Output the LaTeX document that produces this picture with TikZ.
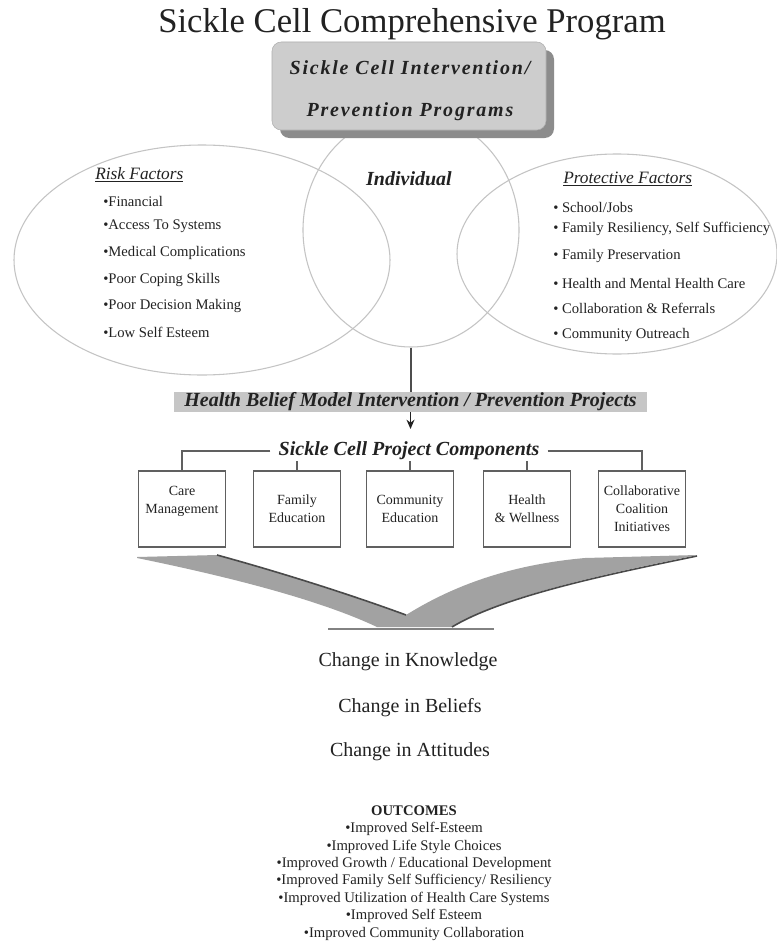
\documentclass[tikz,border=0pt]{standalone}
\usepackage{fontspec}
\setmainfont{Liberation Serif}
\newfontfamily\boxfont[LetterSpace=9]{Liberation Serif}
\usetikzlibrary{arrows.meta,shapes.geometric,shadows}
\definecolor{ink}{HTML}{222222}
\definecolor{ellcol}{HTML}{C4C4C4}
\definecolor{boxfill}{HTML}{CDCDCD}
\definecolor{shadowcol}{HTML}{8C8C8C}
\definecolor{bandfill}{HTML}{C6C6C6}
\definecolor{sicklefill}{HTML}{A2A2A2}
\definecolor{sickledark}{HTML}{4A4A4A}
\definecolor{boxline}{HTML}{606060}
\begin{document}
\begin{tikzpicture}[x=0.75pt,y=-0.75pt,
  every node/.style={text=ink},
  ring/.style={ellipse,draw=ellcol,line width=0.8pt,inner sep=0pt},
  bihead/.style={font=\bfseries\itshape\fontsize{15}{18}\selectfont},
  ihead/.style={font=\itshape\fontsize{13}{15}\selectfont,anchor=west,inner sep=0pt},
  listitem/.style={font=\fontsize{11}{13}\selectfont,anchor=west,inner sep=0pt},
  compbox/.style={draw=boxline,line width=0.8pt,minimum width=65pt,minimum height=57pt,inner sep=0pt,align=center,font=\fontsize{10.5}{13.5}\selectfont},
  conn/.style={draw=boxline,line width=0.9pt},
  change/.style={font=\fontsize{15}{18}\selectfont}
]
\useasboundingbox (0,0) rectangle (777,942);
\fill[white] (0,0) rectangle (777,942);

% title
\node[font=\fontsize{26}{30}\selectfont,anchor=base] (title) at (412,33) {Sickle Cell Comprehensive Program};

% ellipses
\node[ring,minimum width=282pt,minimum height=172.5pt] (risk) at (202,260) {};
\node[ring,minimum width=162pt,minimum height=175.5pt] (indiv) at (411,230) {};
\node[ring,minimum width=240pt,minimum height=150pt] (prot) at (617,254) {};

% top box
\node[rounded corners=7pt,fill=boxfill,draw=boxfill!85!black,line width=0.4pt,
  minimum width=205.5pt,minimum height=66pt,inner sep=0pt,
  drop shadow={shadow xshift=6pt,shadow yshift=-6pt,fill=shadowcol,opacity=1}] (prog) at (409,86) {};
\node[align=center,inner sep=0pt,font=\boxfont\bfseries\itshape\fontsize{15}{31.5}\selectfont] (progtext) at (410,91)
  {Sickle Cell Intervention/\\Prevention Programs};

% individual
\node[bihead] (indlabel) at (409,179) {Individual};

% risk factors
\node[ihead] (riskh) at (95,175) {\underline{Risk Factors}};
\node[listitem] (r1) at (103,201) {•Financial};
\node[listitem] (r2) at (103,226) {•Access To Systems};
\node[listitem] (r3) at (103,253) {•Medical Complications};
\node[listitem] (r4) at (103,280) {•Poor Coping Skills};
\node[listitem] (r5) at (103,306) {•Poor Decision Making};
\node[listitem] (r6) at (103,332) {•Low Self Esteem};

% protective factors
\node[ihead] (proth) at (563,179) {\underline{Protective Factors}};
\node[listitem] (p1) at (553,207) {• School/Jobs};
\node[listitem] (p2) at (553,229) {• Family Resiliency, Self Sufficiency};
\node[listitem] (p3) at (553,256) {• Family Preservation};
\node[listitem] (p4) at (553,283) {• Health and Mental Health Care};
\node[listitem] (p5) at (553,308) {• Collaboration \& Referrals};
\node[listitem] (p6) at (553,335) {• Community Outreach};

% band
\node[fill=bandfill,minimum width=354.75pt,minimum height=15pt,inner sep=0pt,bihead] (band) at (410.5,402)
  {Health Belief Model Intervention / Prevention Projects};
\draw[draw=ink!80,line width=1.1pt] (indiv.south) -- (indiv.south |- band.north);
\coordinate (atip) at (410.5,429);
\draw[draw=ink,line width=1pt,-{Stealth[length=7pt,width=6pt]}] (band.south) -- (atip);

% components
\node[bihead,inner xsep=6pt] (comp) at (409,451) {Sickle Cell Project Components};
\node[compbox] (b1) at (182,509) {Care\\Management\\\mbox{}};
\node[compbox] (b2) at (297,509) {Family\\Education};
\node[compbox] (b3) at (410,509) {Community\\Education};
\node[compbox] (b4) at (527,509) {Health\\\& Wellness};
\node[compbox] (b5) at (642,509) {Collaborative\\Coalition\\Initiatives};
\draw[conn] (comp.west) -| (b1.north);
\draw[conn] (comp.east) -| (b5.north);
\draw[conn] (b2.north) -- ++(0,-9);
\draw[conn] (b3.north) -- ++(0,-9);
\draw[conn] (b4.north) -- ++(0,-9);

% sickle shape
\fill[sicklefill] (137,557) -- (217,555) .. controls (290,575) and (360,598) .. (406,615)
  .. controls (440,594) and (495,566) .. (585,558) -- (697,555)
  .. controls (615,572) and (505,594) .. (452,627) -- (377,627)
  .. controls (320,600) and (230,577) .. (137,558) -- cycle;
\draw[sickledark,line width=1.2pt] (217,555) .. controls (290,575) and (360,598) .. (406,615);
\draw[sickledark,line width=1.2pt] (697,556) .. controls (615,573) and (505,595) .. (452,627);
\draw[sicklefill!80!black,line width=1.5pt] (328,629) -- (494,629);

% changes
\node[change] (ck) at (408,662) {Change in Knowledge};
\node[change] (cb) at (410,708) {Change in Beliefs};
\node[change] (ca) at (410,752) {Change in Attitudes};

% outcomes
\node[align=center,font=\fontsize{11}{13.05}\selectfont] (out) at (414,873)
  {\textbf{OUTCOMES}\\
   •Improved Self-Esteem\\
   •Improved Life Style Choices\\
   •Improved Growth / Educational Development\\
   •Improved Family Self Sufficiency/ Resiliency\\
   •Improved Utilization of Health Care Systems\\
   •Improved Self Esteem\\
   •Improved Community Collaboration};
\end{tikzpicture}
\end{document}
